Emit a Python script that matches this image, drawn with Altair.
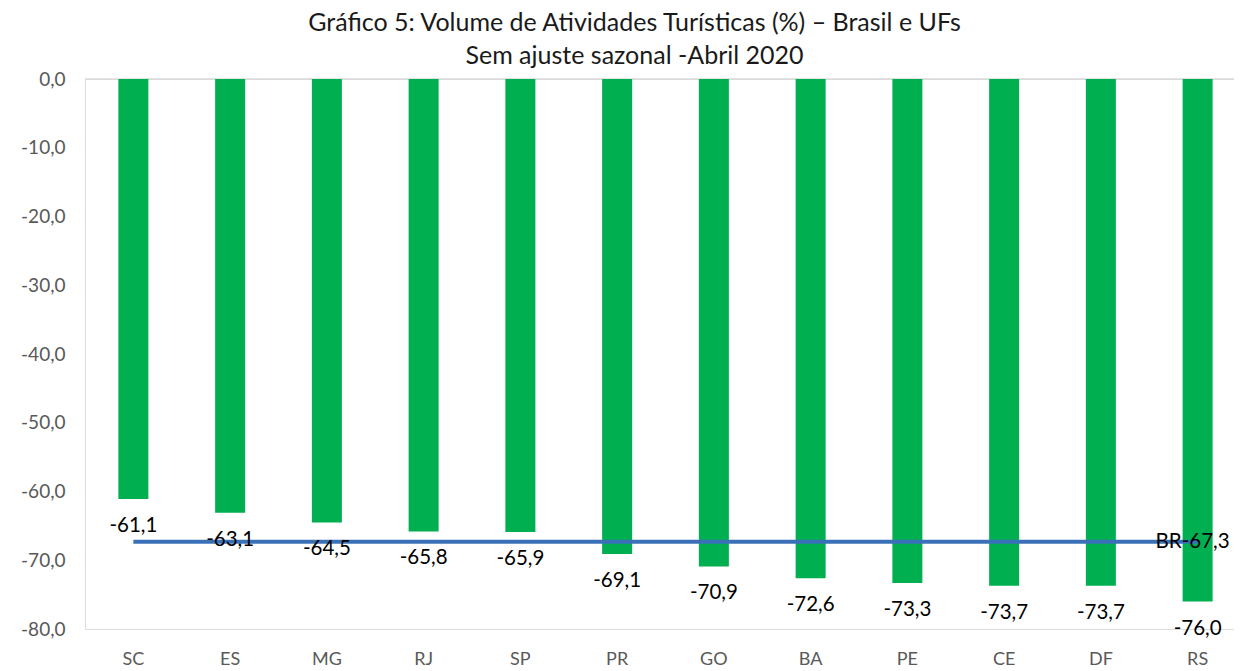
import altair as alt
import pandas as pd

ufs = ["SC", "ES", "MG", "RJ", "SP", "PR", "GO", "BA", "PE", "CE", "DF", "RS"]
values = [-61.1, -63.1, -64.5, -65.8, -65.9, -69.1, -70.9, -72.6, -73.3, -73.7, -73.7, -76.0]
br_value = -67.3
y_ticks = [0, -10, -20, -30, -40, -50, -60, -70, -80]

FONT = "Lato"
GRAY = "#595959"

df = pd.DataFrame({
    "uf": ufs,
    "v": values,
    "lbl": [f"{v:.1f}".replace(".", ",") for v in values],
})
br_df = pd.DataFrame({"uf": [ufs[0], ufs[-1]], "v": [br_value, br_value]})
br_lbl = pd.DataFrame({"uf": [ufs[-1]], "v": [br_value],
                       "lbl": ["BR" + f"{br_value:.1f}".replace(".", ",")]})
zero_df = pd.DataFrame({"v": [0]})

x_scale = alt.Scale(paddingInner=0, paddingOuter=0, range=[0, 1161])
x_enc = alt.X("uf:N", sort=ufs, title=None, scale=x_scale,
              axis=alt.Axis(labelAngle=0, labelFont=FONT, labelFontSize=18,
                            labelColor=GRAY, ticks=False, domain=False,
                            labelPadding=21))
y_scale = alt.Scale(domain=[-80, 0], nice=False)
y_enc = alt.Y("v:Q", scale=y_scale, title=None,
              axis=alt.Axis(values=y_ticks, grid=False, ticks=False, domain=False,
                            labelFont=FONT, labelFontSize=19, labelColor=GRAY,
                            labelPadding=20, minExtent=72, maxExtent=72,
                            labelExpr="replace(replace(format(datum.value, '.1f'), '.', ','), '\u2212', '-')"))

zero = alt.Chart(zero_df).mark_rule(color="#D9D9D9", strokeWidth=1.5).encode(
    y=alt.Y("v:Q", scale=y_scale))

bars = alt.Chart(df).mark_bar(color="#00B050", size=30).encode(x=x_enc, y=y_enc)

labels = alt.Chart(df).mark_text(font=FONT, fontSize=20.5, color="#000000",
                                 baseline="middle", dy=27).encode(
    x=alt.X("uf:N", sort=ufs), y=alt.Y("v:Q", scale=y_scale), text="lbl:N")

line = alt.Chart(br_df).mark_line(color="#3A70B7", strokeWidth=4).encode(
    x=alt.X("uf:N", sort=ufs), y=alt.Y("v:Q", scale=y_scale))

br_text = alt.Chart(br_lbl).mark_text(font=FONT, fontSize=20.5, color="#000000",
                                      baseline="middle", dx=-5).encode(
    x=alt.X("uf:N", sort=ufs), y=alt.Y("v:Q", scale=y_scale), text="lbl:N")

chart = alt.layer(zero, bars, line, labels, br_text).properties(
    width=1149, height=550,
    autosize=alt.AutoSizeParams(type="none"),
    padding={"left": 77, "top": 71, "right": 0, "bottom": 44},
    title=alt.TitleParams(
        text=["Gráfico 5:  Volume de Atividades Turísticas (%) – Brasil e UFs",
              "Sem  ajuste sazonal -Abril 2020"],
        font=FONT, fontSize=25, fontWeight="normal", color="#1a1a1a",
        lineHeight=33, offset=1, anchor="middle", dx=-25),
).configure_view(stroke=None).configure(background="white")

chart.save("out.html", embed_options={"renderer": "svg", "actions": False})
